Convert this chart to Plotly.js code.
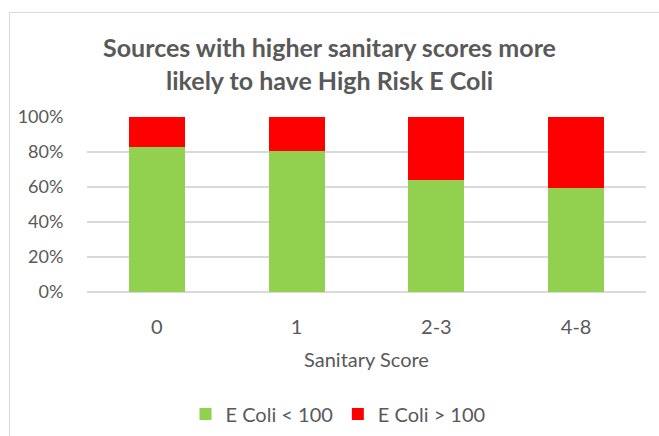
<!DOCTYPE html>
<html>
<head>
<meta charset="utf-8">
<script src="https://cdn.plot.ly/plotly-3.0.1.min.js"></script>
<style>
html,body{margin:0;padding:0;background:#fff;}
#wrap{position:relative;width:659px;height:436px;overflow:hidden;}
#chart{position:absolute;left:0;top:0;width:659px;height:436px;}
#frame{position:absolute;left:9px;top:12px;width:700px;height:500px;border-left:1.5px solid #d9d9d9;border-top:1.5px solid #d9d9d9;pointer-events:none;}
</style>
</head>
<body>
<div id="wrap"><div id="chart"></div><div id="frame"></div></div>
<script>
const categories = ['0', '1', '2-3', '4-8'];
const lowEColi = [82.6, 80.7, 64.2, 59.4];
const highEColi = [17.4, 19.3, 35.8, 40.6];
const yTickVals = [0, 20, 40, 60, 80, 100];
const yTickText = ['0%', '20%', '40%', '60%', '80%', '100%'];

const FONT = 'Lato, "Open Sans", sans-serif';
const GREY = '#595959';

const traces = [
  {type: 'bar', name: 'E Coli < 100', x: categories, y: lowEColi,
   marker: {color: '#92D050'}, hoverinfo: 'skip'},
  {type: 'bar', name: 'E Coli > 100', x: categories, y: highEColi,
   marker: {color: '#FF0000'}, hoverinfo: 'skip'}
];

const layout = {
  width: 659, height: 436,
  barmode: 'stack', bargap: 0.6,
  margin: {l: 87.3, r: 13.3, t: 117, b: 143.7},
  paper_bgcolor: '#fff', plot_bgcolor: '#fff',
  font: {family: FONT, color: GREY, size: 18},
  title: {
    text: '<b>Sources with higher sanitary scores more<br>likely to have High Risk E Coli</b>',
    font: {family: FONT, size: 25, color: GREY},
    x: 0.5, xref: 'container', xanchor: 'center',
    y: 1 - 57 / 436, yref: 'container', yanchor: 'middle'
  },
  xaxis: {
    type: 'category',
    showgrid: false, showline: false, zeroline: false,
    ticks: 'outside', ticklen: 17, tickcolor: 'rgba(0,0,0,0)',
    tickfont: {family: FONT, size: 20, color: GREY},
    title: {text: 'Sanitary Score', font: {family: FONT, size: 20, color: GREY}, standoff: 15}
  },
  yaxis: {
    range: [0, 100],
    tickvals: yTickVals, ticktext: yTickText,
    showgrid: true, gridcolor: '#d9d9d9', gridwidth: 1.5,
    zeroline: true, zerolinecolor: '#d9d9d9', zerolinewidth: 1.5,
    showline: false,
    ticks: 'outside', ticklen: 19, tickcolor: 'rgba(0,0,0,0)',
    tickfont: {family: FONT, size: 18, color: GREY}
  },
  showlegend: true,
  legend: {
    orientation: 'h', traceorder: 'normal',
    x: 338 / 659, xref: 'container', xanchor: 'center',
    y: 1 - 414 / 436, yref: 'container', yanchor: 'middle',
    font: {family: FONT, size: 20, color: GREY},
    itemwidth: 30
  }
};

Plotly.newPlot('chart', traces, layout, {displayModeBar: false, staticPlot: true});
</script>
</body>
</html>
